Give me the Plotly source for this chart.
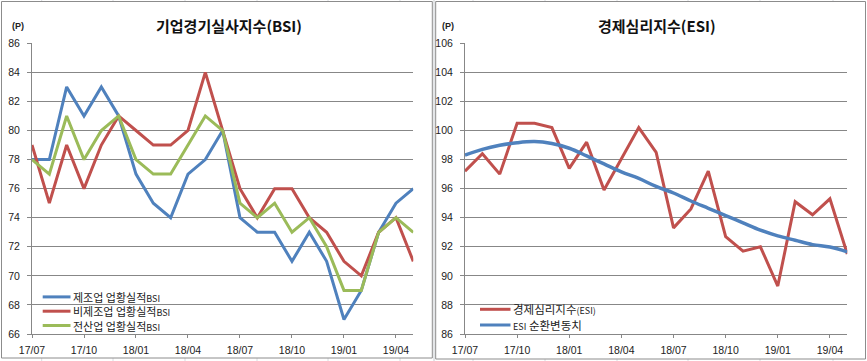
import plotly.graph_objects as go

months = ["17/07", "17/08", "17/09", "17/10", "17/11", "17/12",
          "18/01", "18/02", "18/03", "18/04", "18/05", "18/06",
          "18/07", "18/08", "18/09", "18/10", "18/11", "18/12",
          "19/01", "19/02", "19/03", "19/04", "19/05"]
tick_months = months[::3]

bsi_mfg = [78, 78, 83, 81, 83, 81, 77, 75, 74, 77, 78, 80, 74, 73, 73, 71, 73, 71, 67, 69, 73, 75, 76]
bsi_nonmfg = [79, 75, 79, 76, 79, 81, 80, 79, 79, 80, 84, 80, 76, 74, 76, 76, 74, 73, 71, 70, 73, 74, 71]
bsi_all = [78, 77, 81, 78, 80, 81, 78, 77, 77, 79, 81, 80, 75, 74, 75, 73, 74, 72, 69, 69, 73, 74, 73]

esi = [97.2, 98.4, 97.0, 100.5, 100.5, 100.2, 97.4, 99.2, 95.9, 98.0, 100.2, 98.5,
       93.3, 94.6, 97.2, 92.7, 91.7, 92.0, 89.3, 95.1, 94.2, 95.3, 91.5]
esi_cycle = [98.3, 98.7, 98.98, 99.16, 99.24, 99.1, 98.78, 98.25, 97.7, 97.15, 96.7, 96.15,
             95.7, 95.15, 94.65, 94.15, 93.65, 93.15, 92.75, 92.45, 92.15, 91.98, 91.65]

titles = ["기업경기실사지수(BSI)", "경제심리지수(ESI)"]
bsi_names = ["제조업 업황실적", "비제조업 업황실적", "전산업 업황실적"]
esi_names = ["경제심리지수", "ESI 순환변동치"]

BLUE = "#4F81BD"
RED = "#C0504D"
GREEN = "#9BBB59"
GRID = "#878787"
W, H = 867, 361


def px(x):
    return x / W


def py(y):
    return 1 - y / H


fig = go.Figure()

for vals, col in zip([bsi_mfg, bsi_nonmfg, bsi_all], [BLUE, RED, GREEN]):
    fig.add_trace(go.Scatter(x=months, y=vals, mode="lines", xaxis="x", yaxis="y",
                             line=dict(color=col, width=3), showlegend=False))

fig.add_trace(go.Scatter(x=months, y=esi, mode="lines", xaxis="x2", yaxis="y2",
                         line=dict(color=RED, width=3), showlegend=False))
fig.add_trace(go.Scatter(x=months, y=esi_cycle, mode="lines", xaxis="x2", yaxis="y2",
                         line=dict(color=BLUE, width=3.5, shape="spline"), showlegend=False))

xcommon = dict(type="category", range=[0, 22], showgrid=False, showline=True,
               linecolor=GRID, linewidth=1, ticks="outside", ticklen=3, tickcolor=GRID,
               tickmode="array", tickvals=tick_months, ticktext=tick_months,
               tickfont=dict(family="Liberation Sans", size=10.5, color="#222"),
               ticklabelstandoff=3, fixedrange=True, automargin=False)
ycommon = dict(showgrid=True, gridcolor=GRID, gridwidth=1, showline=True,
               linecolor=GRID, linewidth=1, ticks="outside", ticklen=4, tickcolor=GRID,
               dtick=2, zeroline=False,
               tickfont=dict(family="Liberation Sans", size=10.5, color="#222"),
               ticklabelstandoff=5, fixedrange=True, automargin=False)

fig.update_layout(
    width=W, height=H,
    margin=dict(l=0, r=0, t=0, b=0, pad=0, autoexpand=False),
    paper_bgcolor="white", plot_bgcolor="white",
    font=dict(family="Noto Sans CJK KR", size=11, color="#222"),
    showlegend=False,
    xaxis=dict(domain=[px(32), px(413.3)], anchor="y", **xcommon),
    yaxis=dict(domain=[py(334), py(43.3)], anchor="x", range=[66, 86], **ycommon),
    xaxis2=dict(domain=[px(465), px(847.3)], anchor="y2", **xcommon),
    yaxis2=dict(domain=[py(334), py(43.3)], anchor="x2", range=[86, 106], **ycommon),
)

shapes = []
# faint spreadsheet cell gridlines
for gx in [41.7, 113, 185, 257, 328, 400, 473, 545, 617, 688, 760, 833]:
    shapes.append(dict(type="line", xref="paper", yref="paper", x0=px(gx), x1=px(gx),
                       y0=py(0), y1=py(361), line=dict(color="#d9dce0", width=1), layer="below"))
shapes.append(dict(type="line", xref="paper", yref="paper", x0=px(434), x1=px(434),
                   y0=py(0), y1=py(361), line=dict(color="#c8ccd0", width=1), layer="below"))
# chart boxes
shapes.append(dict(type="rect", xref="paper", yref="paper", x0=px(1.5), x1=px(432.3),
                   y0=py(358), y1=py(1.5), line=dict(color="#8c8c8c", width=1),
                   fillcolor="white", layer="below"))
shapes.append(dict(type="rect", xref="paper", yref="paper", x0=px(435.7), x1=px(865.5),
                   y0=py(359), y1=py(1.5), line=dict(color="#8c8c8c", width=1),
                   fillcolor="white", layer="below"))

annotations = []
annotations.append(dict(text="<b>" + titles[0] + "</b>", x=px(229), y=py(25), xref="paper", yref="paper",
                        showarrow=False, xanchor="center", yanchor="middle",
                        font=dict(size=15, color="#111")))
annotations.append(dict(text="<b>" + titles[1] + "</b>", x=px(657), y=py(25), xref="paper", yref="paper",
                        showarrow=False, xanchor="center", yanchor="middle",
                        font=dict(size=15, color="#111")))
for xx in [18, 448]:
    annotations.append(dict(text="<b>(P)</b>", x=px(xx), y=py(26), xref="paper", yref="paper",
                            showarrow=False, xanchor="center", yanchor="middle",
                            font=dict(family="Liberation Sans", size=9, color="#222")))

# legend (left): one multi-line text block
left_rows = [nm + "<span style='font-size:9px'>BSI</span>" for nm in bsi_names]
for i, col in enumerate([BLUE, RED, GREEN]):
    yy = 296.9 + i * 14.3
    shapes.append(dict(type="line", xref="paper", yref="paper", x0=px(42.7), x1=px(70.5),
                       y0=py(yy), y1=py(yy), line=dict(color=col, width=3)))
annotations.append(dict(text="<br>".join(left_rows), x=px(71), y=py(311.2),
                        xref="paper", yref="paper", showarrow=False, align="left",
                        xanchor="left", yanchor="middle", font=dict(size=11, color="#222")))
# legend (right)
esi_labels = [esi_names[0] + "<span style='font-size:9px'>(ESI)</span>",
              "<span style='font-size:9px'>ESI</span> " + esi_names[1][4:]]
for i, (nm, col) in enumerate(zip(esi_labels, [RED, BLUE])):
    yy = 309.3 + i * 15.7
    shapes.append(dict(type="line", xref="paper", yref="paper", x0=px(480), x1=px(510.5),
                       y0=py(yy), y1=py(yy), line=dict(color=col, width=3)))
    annotations.append(dict(text=nm, x=px(511), y=py(yy),
                            xref="paper", yref="paper", showarrow=False,
                            xanchor="left", yanchor="middle", font=dict(size=11.5, color="#222")))

fig.update_layout(shapes=shapes, annotations=annotations)
fig.write_html("out.html", config={"displayModeBar": False},
               post_script="document.body.style.margin='0';document.body.style.overflow='hidden';")
